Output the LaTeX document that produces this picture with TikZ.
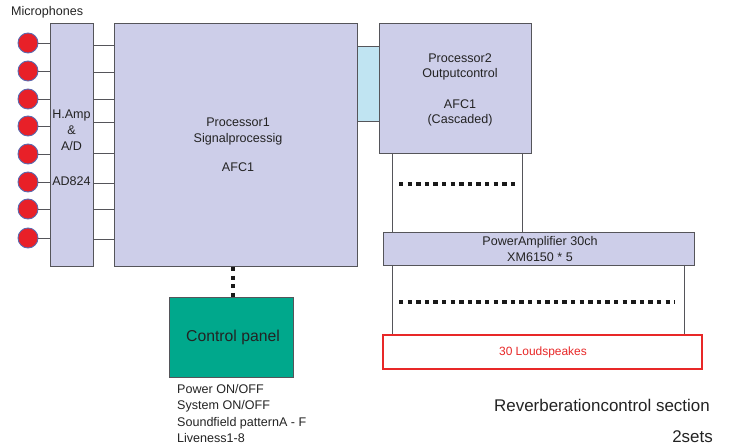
\documentclass[tikz,border=0pt]{standalone}
\usepackage{fontspec}
\setmainfont{Liberation Sans}
\definecolor{boxfill}{RGB}{205,206,233}
\definecolor{boxline}{RGB}{85,85,90}
\definecolor{linkblue}{RGB}{192,228,242}
\definecolor{panelteal}{RGB}{0,168,140}
\definecolor{micred}{RGB}{232,32,40}
\definecolor{micline}{RGB}{90,105,175}
\definecolor{spkred}{RGB}{232,40,40}
\definecolor{txt}{RGB}{35,35,35}
\begin{document}
\begin{tikzpicture}[x=1bp,y=-1bp,
  blk/.style={draw=boxline,fill=boxfill,line width=0.9bp},
  wire/.style={draw=boxline,line width=0.7bp},
  sqdots/.style={line width=4bp,dash pattern=on 4.3bp off 4.3bp,black!90},
  lbl/.style={inner sep=0pt,text=txt,font=\fontsize{12.6}{15.6}\selectfont,align=center},
  mic/.style={circle,draw=micline,fill=micred,line width=0.9bp,minimum size=20bp,inner sep=0pt}]
\useasboundingbox (0,0) rectangle (733,447);
% title
\node[lbl,anchor=west] (title) at (11,12) {Microphones};
% boxes
\draw[blk] (50,23) rectangle (93,266);
\node[lbl] (hamptxt) at (71.5,148) {H.Amp\\\&\\A/D\\[20bp]AD824};
\draw[blk] (114,23) rectangle (357,266);
\node[lbl] (p1txt) at (238,145) {Processor1\\Signalprocessig\\[14bp]AFC1};
\draw[fill=linkblue,draw=boxline,line width=0.9bp] (357,46) rectangle (379,121);
\draw[blk] (379,23) rectangle (531,153);
\node[lbl] (p2txt) at (460,90) {Processor2\\Outputcontrol\\[15bp]AFC1\\(Cascaded)};
% mics and wires
\foreach \i/\y/\yy in {1/43/45,2/71/72,3/99/99,4/126/122,5/154/153,6/182/183,7/209/209,8/238/239}{
  \node[mic] (mic\i) at (28,\y) {};
  \coordinate (hin\i) at (50,\y);
  \coordinate (hout\i) at (93,\yy);
  \coordinate (pin\i) at (114,\yy);
  \draw[wire] (mic\i.east) -- (hin\i);
  \draw[wire] (hout\i) -- (pin\i);
}
% processor2 to power amp
\coordinate (p2a) at (392,153); \coordinate (p2b) at (522,153);
\coordinate (pa1) at (392,232); \coordinate (pa2) at (522,232);
\draw[wire] (p2a) -- (pa1);
\draw[wire] (p2b) -- (pa2);
\draw[sqdots] (399,184) -- (515,184);
\draw[blk] (383,232) rectangle (694,265);
\node[lbl] (patxt) at (540,249) {PowerAmplifier 30ch\\XM6150 * 5};
\coordinate (pb1) at (392,265); \coordinate (pb2) at (684,265);
\coordinate (sp1) at (392,335); \coordinate (sp2) at (684,335);
\draw[wire] (pb1) -- (sp1);
\draw[wire] (pb2) -- (sp2);
\draw[sqdots] (399,302) -- (675,302);
\draw[draw=spkred,fill=white,line width=2.2bp] (383,335) rectangle (702,369);
\node[lbl,text=spkred,font=\fontsize{12}{14}\selectfont] (spktxt) at (543,352) {30 Loudspeakes};
% control panel
\draw[fill=panelteal,draw=boxline,line width=0.9bp] (169,297) rectangle (293,377);
\node[lbl,font=\fontsize{15.8}{18}\selectfont] (cptxt) at (233,337) {Control panel};
\coordinate (cpt) at (233,297); \coordinate (p1b) at (233,267);
\draw[sqdots] (p1b) -- (cpt);
\node[lbl,anchor=north west,align=left,font=\fontsize{12.6}{16.2}\selectfont] (cplist) at (177,384.5) {Power ON/OFF\\System ON/OFF\\Soundfield patternA - F\\Liveness1-8};
% section caption
\node[lbl,anchor=west,font=\fontsize{17}{20}\selectfont] (sec) at (494,405) {Reverberationcontrol section};
\node[lbl,anchor=east,font=\fontsize{17}{20}\selectfont] (sets) at (713,437) {2sets};
\end{tikzpicture}
\end{document}
